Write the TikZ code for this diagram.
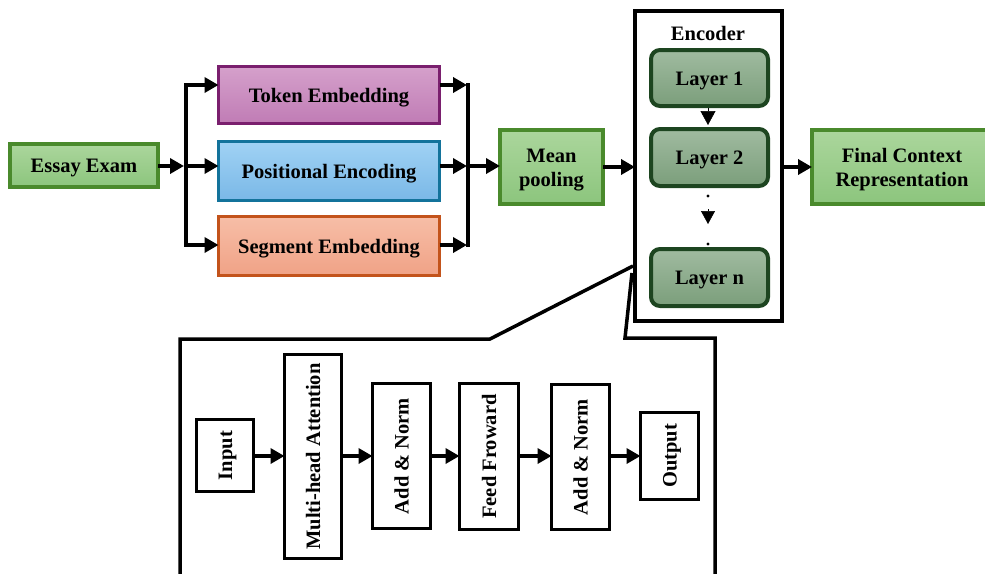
\documentclass[tikz,border=0pt]{standalone}
\usepackage{fontspec}
\setmainfont{Liberation Serif}
\usetikzlibrary{arrows.meta}
\definecolor{gTop}{HTML}{ABD69C}
\definecolor{gBot}{HTML}{8CC57D}
\definecolor{gLine}{HTML}{4A8A2C}
\definecolor{pTop}{HTML}{D5A0CB}
\definecolor{pBot}{HTML}{C07CB5}
\definecolor{pLine}{HTML}{7A1F6E}
\definecolor{bTop}{HTML}{A0D2F4}
\definecolor{bBot}{HTML}{7AB8E7}
\definecolor{bLine}{HTML}{13739B}
\definecolor{oTop}{HTML}{F7BEA7}
\definecolor{oBot}{HTML}{F0A286}
\definecolor{oLine}{HTML}{C3531B}
\definecolor{lTop}{HTML}{A0BBA0}
\definecolor{lBot}{HTML}{7B9E7B}
\definecolor{lLine}{HTML}{1D4520}
\tikzset{
  lbl/.style={font=\bfseries\fontsize{20.5}{24}\selectfont, inner sep=0pt, outer sep=0pt, align=center},
  one/.style={text height=14pt, text depth=0pt},
  two/.style={text height=38pt, text depth=0pt},
  greenbox/.style={lbl, draw=gLine, line width=4pt, top color=gTop, bottom color=gBot},
  embbox/.style={lbl, one, line width=3pt, minimum width=221pt},
  layerbox/.style={lbl, one, draw=lLine, line width=4pt, rounded corners=9pt, top color=lTop, bottom color=lBot, minimum width=117pt},
  subbox/.style={lbl, one, draw=black, line width=3pt, fill=white, rotate=90},
  conn/.style={line width=4.5pt, line cap=rect},
  arr/.style={line width=4.5pt, -{Triangle[length=14pt,width=15pt]}},
  frame/.style={line width=3.5pt, line join=miter}
}
\begin{document}
\begin{tikzpicture}[x=1pt,y=-1pt]
\useasboundingbox (0,0) rectangle (985,573);
\clip (0,0) rectangle (985,573);

% input
\node[greenbox, one, minimum width=148pt, minimum height=43pt] (essay) at (84,165.5) {Essay Exam};

% embeddings
\node[embbox, draw=pLine, top color=pTop, bottom color=pBot, minimum height=57pt] (tok) at (329,95) {Token Embedding};
\node[embbox, draw=bLine, top color=bTop, bottom color=bBot, minimum height=59pt] (pos) at (329,171) {Positional Encoding};
\node[embbox, draw=oLine, top color=oTop, bottom color=oBot, minimum height=59pt] (seg) at (329,246) {Segment Embedding};

% mean pooling / final
\node[greenbox, two, minimum width=103pt, minimum height=74pt] (mean) at (551.5,167) {Mean\\pooling};
\node[greenbox, two, minimum width=180pt, minimum height=74pt] (final) at (902,167) {Final Context\\Representation};

% encoder
\node[draw=black, line width=4pt, minimum width=147pt, minimum height=310pt, inner sep=0pt, outer sep=0pt] (enc) at (708.5,166) {};
\node[lbl, one] (enclbl) at (708,33) {Encoder};
\node[layerbox, minimum height=56pt] (l1) at (709.5,78) {Layer 1};
\node[layerbox, minimum height=57pt] (l2) at (709.5,157.5) {Layer 2};
\node[layerbox, minimum height=57pt] (ln) at (709.5,277.5) {Layer n};

% branch and merge lines
\coordinate (bT) at (186,85);
\coordinate (bM) at (186,166);
\coordinate (bB) at (186,245);
\coordinate (mT) at (468,85);
\coordinate (mM) at (468,166);
\coordinate (mB) at (468,245);
\draw[conn] (bT) -- (bB);
\draw[conn] (mT) -- (mB);
\draw[arr] (essay.east |- bM) -- ([xshift=-2pt]bM);
\draw[arr] (bT) -- (bT -| tok.west);
\draw[arr] (bM) -- (bM -| pos.west);
\draw[arr] (bB) -- (bB -| seg.west);
\draw[arr] (tok.east |- mT) -- ([xshift=-1pt]mT);
\draw[arr] (pos.east |- mM) -- ([xshift=-1pt]mM);
\draw[arr] (seg.east |- mB) -- ([xshift=-1pt]mB);
\draw[arr] (mM) -- (mM -| mean.west);
\draw[arr] (mean.east |- 0,167) -- (enc.west |- 0,167);
\draw[arr] (enc.east |- 0,167) -- (final.west |- 0,167);

% layer arrows
\coordinate (a1) at (708,108);
\coordinate (a2) at (708,125);
\draw[line width=0.5pt, -{Triangle[length=14pt,width=15pt]}] (a1) -- (a2);
\coordinate (dot1) at (708,196);
\coordinate (dot2) at (708,244);
\coordinate (dA) at (708,209);
\coordinate (dB) at (708,224);
\fill (dot1) circle (1.6pt);
\fill (dot2) circle (1.6pt);
\draw[line width=0.5pt, -{Triangle[length=13pt,width=14pt]}] (dA) -- (dB);

% zoom frame
\coordinate (z1) at (633,266);
\coordinate (z2) at (490,339);
\coordinate (z3) at (180,339);
\coordinate (z4) at (180,590);
\coordinate (z5) at (632,273);
\coordinate (z6) at (625,338);
\coordinate (z7) at (715,338);
\coordinate (z8) at (715,590);
\draw[frame] (z1) -- (z2) -- (z3) -- (z4);
\draw[frame] (z5) -- (z6) -- (z7) -- (z8);

% encoder layer detail
\node[subbox, minimum width=72pt, minimum height=57pt] (inp) at (225,455.5) {Input};
\node[subbox, minimum width=204pt, minimum height=57pt] (mha) at (313,456.5) {Multi-head Attention};
\node[subbox, minimum width=145pt, minimum height=58pt] (an1) at (401.5,456) {Add \& Norm};
\node[subbox, minimum width=146pt, minimum height=59pt] (ff) at (489,456.5) {Feed Froward};
\node[subbox, minimum width=145pt, minimum height=58pt] (an2) at (580.5,457) {Add \& Norm};
\node[subbox, minimum width=87pt, minimum height=58pt] (out) at (669.5,456) {Output};
\draw[arr] (inp.south |- 0,456) -- (mha.north |- 0,456);
\draw[arr] (mha.south |- 0,456) -- (an1.north |- 0,456);
\draw[arr] (an1.south |- 0,456) -- (ff.north |- 0,456);
\draw[arr] (ff.south |- 0,456) -- (an2.north |- 0,456);
\draw[arr] (an2.south |- 0,456) -- (out.north |- 0,456);
\end{tikzpicture}
\end{document}
